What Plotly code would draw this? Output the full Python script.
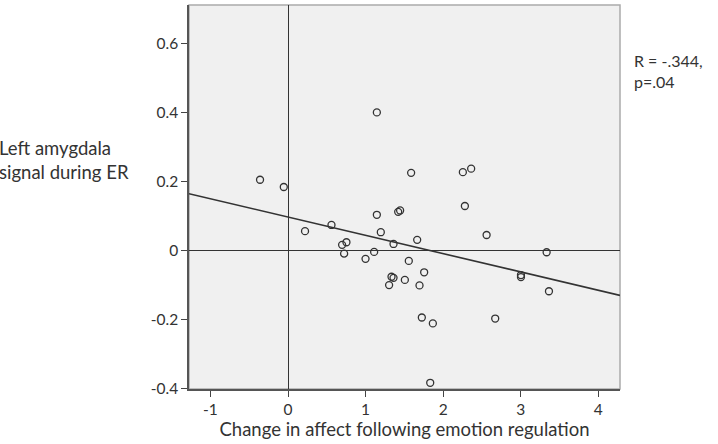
import plotly.graph_objects as go

# Data
change_in_affect = [1.145, 1.587, -0.361, -0.055, 0.219, 0.56, 1.145, 1.42, 1.445, 1.196,
                    0.697, 0.753, 1.36, 1.665, 0.723, 1.11, 0.999, 1.557, 1.755, 1.334,
                    1.36, 1.506, 1.303, 1.695, 1.725, 1.867, 1.833, 2.254, 2.361, 2.28,
                    2.56, 3.334, 3.003, 3.003, 3.364, 2.671]
amygdala_signal = [0.400, 0.225, 0.205, 0.184, 0.056, 0.074, 0.1035, 0.112, 0.116, 0.053,
                   0.0165, 0.024, 0.019, 0.031, -0.009, -0.004, -0.024, -0.030, -0.063, -0.076,
                   -0.079, -0.085, -0.100, -0.101, -0.194, -0.211, -0.383, 0.227, 0.237, 0.129,
                   0.045, -0.005, -0.071, -0.077, -0.118, -0.197]

fit_intercept = 0.097
fit_slope = -0.053

x_range = [-1.277, 4.28]
y_range = [-0.401, 0.711]
x_ticks = [-1, 0, 1, 2, 3, 4]
x_tick_labels = ["-1", "0", "1", "2", "3", "4"]
y_ticks = [-0.4, -0.2, 0, 0.2, 0.4, 0.6]
y_tick_labels = ["-0.4", "-0.2", "0", "0.2", "0.4", "0.6"]

FONT = "Lato"
DARK = "#333333"

fig = go.Figure()

fit_x = list(x_range)
fit_y = [fit_intercept + fit_slope * v for v in fit_x]
fig.add_trace(go.Scatter(x=fit_x, y=fit_y, mode="lines",
                         line=dict(color=DARK, width=1.6), hoverinfo="skip",
                         showlegend=False))

fig.add_trace(go.Scatter(x=change_in_affect, y=amygdala_signal, mode="markers",
                         marker=dict(symbol="circle-open", size=7, color=DARK,
                                     line=dict(width=1.3, color=DARK)),
                         showlegend=False))

axis_common = dict(showgrid=False, ticks="outside", ticklen=6, tickwidth=1.2,
                   tickcolor="#444444", showline=True, linecolor="#555555", linewidth=1.5,
                   zeroline=True, zerolinecolor=DARK, zerolinewidth=1.3,
                   tickfont=dict(family=FONT, size=15.5, color=DARK))

fig.update_xaxes(range=x_range, tickvals=x_ticks, ticktext=x_tick_labels, **axis_common,
                 title=dict(text="Change in affect following emotion regulation",
                            font=dict(family=FONT, size=18.5, color=DARK), standoff=2))
fig.update_yaxes(range=y_range, tickvals=y_ticks, ticktext=y_tick_labels, **axis_common)

# light border on top/right of plot area
fig.add_shape(type="rect", xref="paper", yref="paper", x0=0, y0=0, x1=1, y1=1,
              line=dict(color="#aaaaaa", width=1.5), layer="below")

fig.add_annotation(xref="paper", yref="paper", x=0, y=0.597, xshift=-192,
                   xanchor="left", yanchor="middle", align="left", showarrow=False,
                   text="Left amygdala<br>signal during ER",
                   font=dict(family=FONT, size=18.5, color=DARK))

fig.add_annotation(xref="paper", yref="paper", x=1, y=0.829, xshift=12,
                   xanchor="left", yanchor="middle", align="left", showarrow=False,
                   text="R = -.344,<br>p=.04",
                   font=dict(family=FONT, size=16, color=DARK))

fig.update_layout(width=718, height=444, margin=dict(l=189, r=98, t=5, b=55),
                  plot_bgcolor="#f0f0f0", paper_bgcolor="white")

fig.write_html("out.html")
